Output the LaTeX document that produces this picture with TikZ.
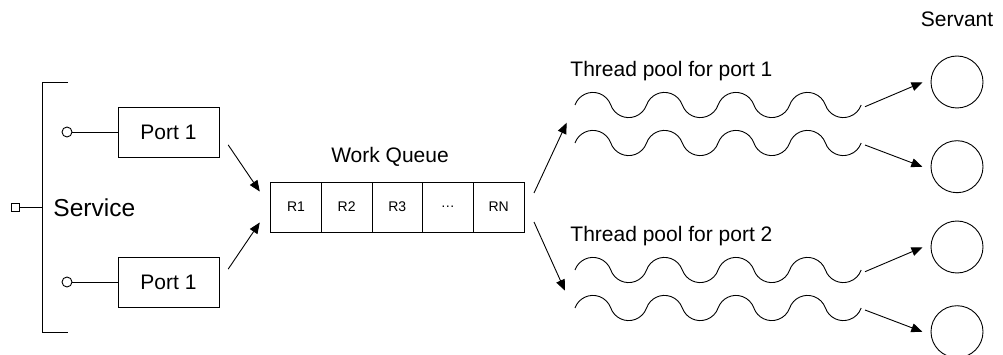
\documentclass[tikz,border=0pt]{standalone}
\usepackage{fontspec}
\setmainfont{Liberation Sans}
\usetikzlibrary{arrows.meta}

\tikzset{
  box/.style={draw, minimum width=101pt, minimum height=50pt, inner sep=0pt, font=\fontsize{21}{25}\selectfont},
  cell/.style={draw, minimum width=50.65pt, minimum height=50pt, inner sep=0pt, font=\fontsize{14}{17}\selectfont},
  pin/.style={draw, circle, minimum size=10pt, inner sep=0pt},
  servant/.style={draw, circle, minimum size=52pt, inner sep=0pt},
  lbl/.style={inner sep=0pt, font=\fontsize{21}{25}\selectfont},
}

% one thread: four periods of a wavy line
\newcommand{\thread}[1]{%
  \draw (575,#1) \foreach \k in {1,...,4} {
    arc[start angle=199.7, end angle=340.3, radius=19]
    arc[start angle=160.3, end angle=19.7, radius=19]};}

\begin{document}
\begin{tikzpicture}[x=1pt, y=-1pt, line width=0.9pt, >={Triangle[length=11pt,width=9pt]}]
    \useasboundingbox (0,0) rectangle (1003,355);

    % Service
    \draw (68,82) -- (42,82) -- (42,332) -- (68,332);
    \node[draw, minimum size=8pt, inner sep=0pt] (svc) at (15,207.5) {};
    \coordinate (bar) at (42,207.5);
    \draw (svc) -- (bar);
    \node[lbl, anchor=base west, font=\fontsize{24.5}{29}\selectfont] (svclbl) at (53,217) {Service};

    % Ports
    \node[box] (port1) at (168.5,132) {Port 1};
    \node[box] (port2) at (168.5,282) {Port 1};
    \node[pin] (pin1) at (67,132) {};
    \node[pin] (pin2) at (67,282) {};
    \draw (pin1) -- (port1);
    \draw (pin2) -- (port2);

    % Work queue
    \foreach \t [count=\i] in {R1,R2,R3,\dots,RN}
        \node[cell] (q\i) at ({270.7+50.65*(\i-0.5)},207) {\t};
    \node[lbl, anchor=base] (wq) at (390,162.7) {Work Queue};

    \draw[->, shorten <=15.6pt, shorten >=18.7pt] (port1.east) -- (q1.west);
    \draw[->, shorten <=15.6pt, shorten >=18.7pt] (port2.east) -- (q1.west);

    % Thread pools
    \node[lbl, anchor=base west] (pool1) at (570,77) {Thread pool for port 1};
    \node[lbl, anchor=base west] (pool2) at (570,242) {Thread pool for port 2};
    \thread{105}
    \thread{143}
    \thread{270}
    \thread{308}

    \coordinate (out1) at (534,193);
    \coordinate (in1) at (566.7,122.7);
    \coordinate (out2) at (534,222);
    \coordinate (in2) at (565,290.7);
    \draw[->] (out1) -- (in1);
    \draw[->] (out2) -- (in2);

    % Servants
    \node[lbl, anchor=base] (servlbl) at (957,27) {Servant};
    \node[servant] (s1) at (957,82) {};
    \node[servant] (s2) at (957,166.7) {};
    \node[servant] (s3) at (957,247) {};
    \node[servant] (s4) at (957,331.7) {};

    \coordinate (t1) at (865,106.7);
    \coordinate (t2) at (865,145);
    \coordinate (t3) at (865,271.7);
    \coordinate (t4) at (865,310);
    \draw[->, shorten >=9pt] (t1) -- (s1.173);
    \draw[->, shorten >=9pt] (t2) -- (s2.187);
    \draw[->, shorten >=9pt] (t3) -- (s3.173);
    \draw[->, shorten >=9pt] (t4) -- (s4.187);

\end{tikzpicture}
\end{document}
